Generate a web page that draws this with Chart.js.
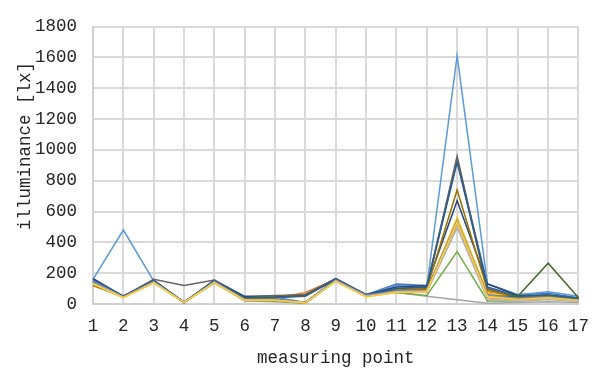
<!DOCTYPE html>
<html>
<head>
<meta charset="utf-8">
<script src="https://cdn.jsdelivr.net/npm/chart.js@4"></script>
<style>
  html, body { margin: 0; padding: 0; background: #fff; }
  #wrap { width: 601px; height: 372px; }
</style>
</head>
<body>
<div id="wrap"><canvas id="c" width="601" height="372"></canvas></div>
<script>
// measuring points along the route
const points = ['1','2','3','4','5','6','7','8','9','10','11','12','13','14','15','16','17'];

// illuminance readings [lx], one array per measurement run
const run01 = [165, 50, 150, 10, 150, 45, 55, 60, 165, 60, 130, 120, 930, 130, 60, 70, 40];
const run02 = [150, 50, 150, 10, 150, 35, 35, 75, 160, 60, 90, 100, 945, 80, 40, 50, 30];
const run03 = [140, 45, 140, 10, 140, 20, 15, 5, 150, 55, 75, 50, 28, 5, 10, 15, 10];
const run04 = [130, 45, 145, 10, 140, 30, 30, 10, 150, 50, 80, 90, 560, 70, 40, 60, 30];
const run05 = [160, 480, 150, 15, 145, 45, 45, 10, 160, 60, 120, 110, 1610, 130, 60, 80, 50];
const run06 = [145, 45, 140, 10, 135, 25, 20, 5, 150, 50, 75, 55, 340, 20, 20, 30, 20];
const run07 = [165, 50, 155, 10, 155, 50, 50, 60, 165, 60, 110, 120, 670, 130, 55, 55, 35];
const run08 = [140, 50, 145, 10, 145, 30, 30, 10, 155, 55, 85, 95, 520, 60, 30, 40, 25];
const run09 = [150, 50, 160, 120, 155, 40, 40, 50, 160, 60, 100, 110, 960, 100, 40, 50, 30];
const run10 = [120, 45, 140, 10, 140, 40, 50, 60, 160, 50, 90, 100, 740, 90, 45, 55, 35];
const run11 = [155, 50, 150, 10, 150, 40, 45, 55, 160, 55, 100, 110, 920, 110, 50, 60, 35];
const run12 = [150, 45, 145, 10, 145, 30, 30, 10, 155, 55, 80, 80, 500, 50, 50, 265, 40];
const run13 = [150, 45, 145, 10, 145, 30, 30, 10, 155, 55, 85, 90, 540, 60, 35, 45, 25];
const run14 = [135, 45, 140, 10, 140, 25, 25, 10, 150, 50, 80, 85, 510, 40, 25, 35, 20];
const run15 = [135, 45, 140, 10, 140, 25, 25, 8, 150, 50, 80, 80, 500, 30, 20, 30, 20];
const run16 = [130, 40, 135, 10, 135, 25, 25, 8, 145, 45, 75, 80, 530, 50, 30, 40, 25];

const runs = [run01, run02, run03, run04, run05, run06, run07, run08,
              run09, run10, run11, run12, run13, run14, run15, run16];
const palette = ['#4472C4', '#ED7D31', '#A5A5A5', '#FFC000', '#5B9BD5', '#70AD47',
                 '#264478', '#9E480E', '#636363', '#997300', '#255E91', '#43682B',
                 '#698ED0', '#F1975A', '#B7B7B7', '#FFCD33'];

// y-axis tick values
const yTicks = [0, 200, 400, 600, 800, 1000, 1200, 1400, 1600, 1800];

const FONT = "'Liberation Mono', 'DejaVu Sans Mono', monospace";
const TEXT_COLOR = '#262626';

const datasets = runs.map((r, i) => ({
  label: 'run ' + (i + 1),
  data: r,
  borderColor: palette[i],
  backgroundColor: palette[i],
  borderWidth: 1.5,
  pointRadius: 0,
  tension: 0,
  fill: false
})).reverse();

// vertical axis title, drawn beside the value labels
const yTitle = {
  id: 'yTitle',
  afterDraw(chart) {
    const ctx = chart.ctx;
    ctx.save();
    ctx.translate(25, 146);
    ctx.rotate(-Math.PI / 2);
    ctx.font = '17.5px ' + FONT;
    ctx.fillStyle = TEXT_COLOR;
    ctx.textAlign = 'center';
    ctx.textBaseline = 'middle';
    ctx.fillText('illuminance [lx]', 0, 0);
    ctx.restore();
  }
};

new Chart(document.getElementById('c'), {
  type: 'line',
  data: { labels: points, datasets },
  plugins: [yTitle],
  options: {
    responsive: false,
    animation: false,
    events: [],
    layout: { padding: { top: 17, right: 21, left: 0, bottom: 0 } },
    plugins: { legend: { display: false }, tooltip: { enabled: false } },
    scales: {
      x: {
        offset: false,
        grid: { color: '#d9d9d9', lineWidth: 2, drawTicks: false },
        border: { color: '#d0d0d0', width: 2 },
        ticks: { color: TEXT_COLOR, font: { family: FONT, size: 17.5 }, padding: 12, maxRotation: 0, autoSkip: false },
        title: { display: true, text: 'measuring point', color: TEXT_COLOR,
                 font: { family: FONT, size: 17.5 }, padding: { top: 0, bottom: 3.5 } },
        afterFit: (s) => { s.height = 68; }
      },
      y: {
        min: 0, max: 1800,
        afterBuildTicks: (s) => { s.ticks = yTicks.map(v => ({ value: v })); },
        grid: { color: '#d9d9d9', lineWidth: 2, drawTicks: false },
        border: { color: '#d0d0d0', width: 2 },
        ticks: { color: TEXT_COLOR, font: { family: FONT, size: 17.5 }, padding: 16,
                 callback: (v) => String(v) },
        afterFit: (s) => { s.width = 93; }
      }
    }
  }
});
</script>
</body>
</html>
